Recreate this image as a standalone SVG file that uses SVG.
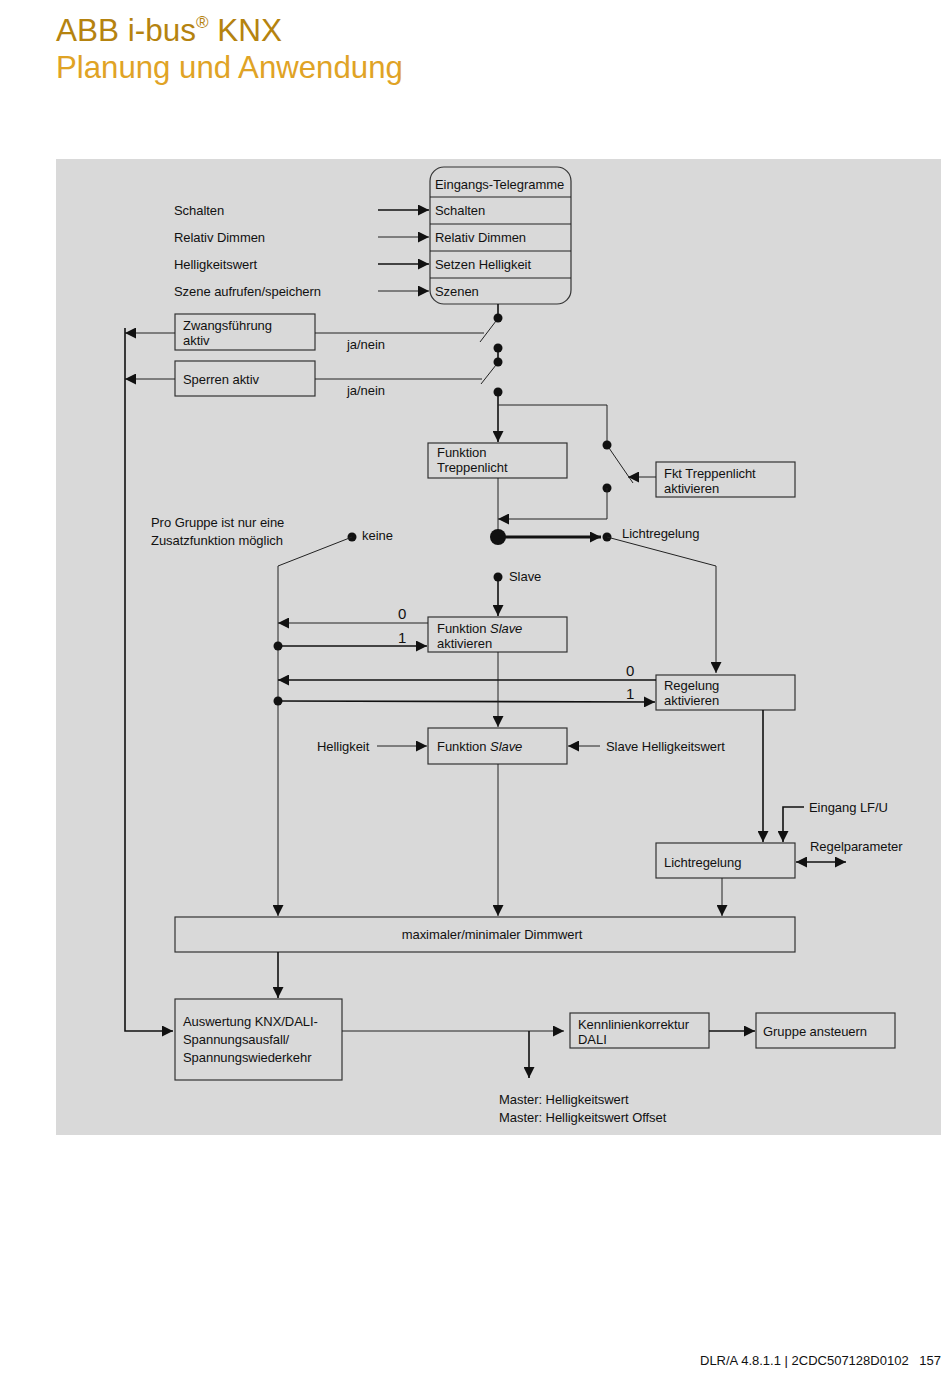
<svg xmlns="http://www.w3.org/2000/svg" width="950" height="1378" viewBox="0 0 950 1378">
<defs>
<marker id="ah" viewBox="0 0 10 10" refX="10" refY="5" markerWidth="11" markerHeight="11" markerUnits="userSpaceOnUse" orient="auto-start-reverse"><path d="M0,0 L10,5 L0,10 z" fill="#111"/></marker>
</defs>
<style>
.t{font-family:"Liberation Sans",Arial,sans-serif;font-size:13px;fill:#111;letter-spacing:-0.05px}
.box{fill:#d9d9d9;stroke:#333;stroke-width:1.2}
.ln{fill:none;stroke:#222;stroke-width:1}
.th{fill:none;stroke:#111;stroke-width:1.6}
.dot{fill:#111}
.h1{font-family:"Liberation Sans",Arial,sans-serif;font-size:31.5px;fill:#b5830f}
.h2{font-family:"Liberation Sans",Arial,sans-serif;font-size:31.2px;fill:#e0a325}
.ft{font-family:"Liberation Sans",Arial,sans-serif;font-size:13px;fill:#111}
</style>
<rect x="0" y="0" width="950" height="1378" fill="#ffffff"/>
<text class="h1" x="56" y="41">ABB i-bus<tspan font-size="17" dy="-13">®</tspan><tspan dy="13"> KNX</tspan></text>
<text class="h2" x="56" y="78">Planung und Anwendung</text>
<rect x="56" y="159" width="885" height="976" fill="#d9d9d9"/>

<g id="labels-left">
<text class="t" x="174" y="215">Schalten</text>
<text class="t" x="174" y="242">Relativ Dimmen</text>
<text class="t" x="174" y="269">Helligkeitswert</text>
<text class="t" x="174" y="296">Szene aufrufen/speichern</text>
</g>

<g id="telegramme">
<rect class="box" x="430" y="167" width="141" height="137" rx="14"/>
<line class="ln" x1="430" y1="197" x2="571" y2="197"/>
<line class="ln" x1="430" y1="224" x2="571" y2="224"/>
<line class="ln" x1="430" y1="251" x2="571" y2="251"/>
<line class="ln" x1="430" y1="278" x2="571" y2="278"/>
<text class="t" x="435" y="189">Eingangs-Telegramme</text>
<text class="t" x="435" y="215">Schalten</text>
<text class="t" x="435" y="242">Relativ Dimmen</text>
<text class="t" x="435" y="269">Setzen Helligkeit</text>
<text class="t" x="435" y="296">Szenen</text>
</g>

<g id="zwang">
<rect class="box" x="175" y="314" width="140" height="36"/>
<text class="t" x="183" y="330">Zwangsführung</text>
<text class="t" x="183" y="345">aktiv</text>
</g>
<g id="sperren">
<rect class="box" x="175" y="361" width="140" height="35"/>
<text class="t" x="183" y="384">Sperren aktiv</text>
</g>
<text class="t" x="347" y="349">ja/nein</text>
<text class="t" x="347" y="395">ja/nein</text>

<g id="treppenlicht">
<rect class="box" x="428" y="443" width="139" height="35"/>
<text class="t" x="437" y="457">Funktion</text>
<text class="t" x="437" y="472">Treppenlicht</text>
</g>
<g id="fkt-treppenlicht">
<rect class="box" x="656" y="462" width="139" height="35"/>
<text class="t" x="664" y="478">Fkt Treppenlicht</text>
<text class="t" x="664" y="493">aktivieren</text>
</g>

<text class="t" x="151" y="527">Pro Gruppe ist nur eine</text>
<text class="t" x="151" y="545">Zusatzfunktion möglich</text>
<text class="t" x="362" y="540">keine</text>
<text class="t" x="622" y="538">Lichtregelung</text>
<text class="t" x="509" y="581">Slave</text>

<g id="slave-aktiv">
<rect class="box" x="428" y="617" width="139" height="35"/>
<text class="t" x="437" y="633">Funktion <tspan font-style="italic">Slave</tspan></text>
<text class="t" x="437" y="648">aktivieren</text>
</g>
<g id="regelung-aktiv">
<rect class="box" x="656" y="675" width="139" height="35"/>
<text class="t" x="664" y="690">Regelung</text>
<text class="t" x="664" y="705">aktivieren</text>
</g>
<text class="t" x="398" y="619" style="font-size:15px">0</text>
<text class="t" x="398" y="643" style="font-size:15px">1</text>
<text class="t" x="626" y="676" style="font-size:15px">0</text>
<text class="t" x="626" y="699" style="font-size:15px">1</text>

<g id="slave">
<rect class="box" x="428" y="728" width="139" height="36"/>
<text class="t" x="437" y="751">Funktion <tspan font-style="italic">Slave</tspan></text>
</g>
<text class="t" x="317" y="751">Helligkeit</text>
<text class="t" x="606" y="751">Slave Helligkeitswert</text>

<g id="lichtregelung">
<rect class="box" x="656" y="843" width="139" height="35"/>
<text class="t" x="664" y="867">Lichtregelung</text>
</g>
<text class="t" x="809" y="812">Eingang LF/U</text>
<text class="t" x="810" y="851">Regelparameter</text>

<g id="dimmwert">
<rect class="box" x="175" y="917" width="620" height="35"/>
<text class="t" x="492" y="939" text-anchor="middle">maximaler/minimaler Dimmwert</text>
</g>

<g id="auswertung">
<rect class="box" x="175" y="999" width="167" height="81"/>
<text class="t" x="183" y="1026">Auswertung KNX/DALI-</text>
<text class="t" x="183" y="1044">Spannungsausfall/</text>
<text class="t" x="183" y="1062">Spannungswiederkehr</text>
</g>
<g id="kennlinie">
<rect class="box" x="570" y="1013" width="139" height="35"/>
<text class="t" x="578" y="1029">Kennlinienkorrektur</text>
<text class="t" x="578" y="1044">DALI</text>
</g>
<g id="gruppe">
<rect class="box" x="756" y="1013" width="139" height="35"/>
<text class="t" x="763" y="1036">Gruppe ansteuern</text>
</g>
<text class="t" x="499" y="1104">Master: Helligkeitswert</text>
<text class="t" x="499" y="1122">Master: Helligkeitswert Offset</text>

<g id="connectors">
<line class="th" x1="378" y1="210" x2="429" y2="210" marker-end="url(#ah)"/>
<line class="ln" x1="378" y1="237" x2="429" y2="237" marker-end="url(#ah)"/>
<line class="th" x1="378" y1="264" x2="429" y2="264" marker-end="url(#ah)"/>
<line class="ln" x1="378" y1="291" x2="429" y2="291" marker-end="url(#ah)"/>
<line class="th" x1="498" y1="304" x2="498" y2="318"/>
<circle class="dot" cx="498" cy="318" r="4.5"/>
<line class="ln" x1="496" y1="321" x2="480" y2="342"/>
<circle class="dot" cx="498" cy="348" r="4.5"/>
<line class="th" x1="498" y1="348" x2="498" y2="362"/>
<circle class="dot" cx="498" cy="362" r="4.5"/>
<line class="ln" x1="496" y1="365" x2="481" y2="384"/>
<circle class="dot" cx="498" cy="392" r="4.5"/>
<line class="ln" x1="315" y1="333" x2="484" y2="333"/>
<line class="ln" x1="315" y1="379" x2="482" y2="379"/>
<line class="ln" x1="175" y1="333" x2="125" y2="333" marker-end="url(#ah)"/>
<line class="ln" x1="175" y1="379" x2="125" y2="379" marker-end="url(#ah)"/>
<polyline class="th" points="125,328 125,1031 173,1031" marker-end="url(#ah)"/>
<line class="th" x1="498" y1="392" x2="498" y2="442" marker-end="url(#ah)"/>
<polyline class="ln" points="498,405 607,405 607,445"/>
<circle class="dot" cx="607" cy="445" r="4.5"/>
<line class="ln" x1="609" y1="448" x2="633" y2="483"/>
<line class="ln" x1="656" y1="477" x2="628" y2="477" marker-end="url(#ah)"/>
<circle class="dot" cx="607" cy="488" r="4.5"/>
<polyline class="ln" points="607,488 607,519 498,519" marker-end="url(#ah)"/>
<line class="ln" x1="498" y1="478" x2="498" y2="537"/>
<circle class="dot" cx="498" cy="537" r="8"/>
<line x1="498" y1="537" x2="601" y2="537" stroke="#111" stroke-width="3" marker-end="url(#ah)"/>
<circle class="dot" cx="607" cy="537" r="4.5"/>
<polyline class="ln" points="607,537 716,566 716,673" marker-end="url(#ah)"/>
<circle class="dot" cx="352" cy="537" r="4.5"/>
<polyline class="ln" points="352,537 278,566 278,916" marker-end="url(#ah)"/>
<circle class="dot" cx="498" cy="577" r="4.5"/>
<line class="th" x1="498" y1="577" x2="498" y2="616" marker-end="url(#ah)"/>
<line class="ln" x1="428" y1="623" x2="278" y2="623" marker-end="url(#ah)"/>
<circle class="dot" cx="278" cy="646" r="4.5"/>
<line class="th" x1="278" y1="646" x2="427" y2="646" marker-end="url(#ah)"/>
<line class="th" x1="656" y1="680" x2="278" y2="680" marker-end="url(#ah)"/>
<circle class="dot" cx="278" cy="701" r="4.5"/>
<line class="th" x1="278" y1="701" x2="655" y2="702" marker-end="url(#ah)"/>
<line class="ln" x1="498" y1="652" x2="498" y2="727" marker-end="url(#ah)"/>
<line class="ln" x1="377" y1="746" x2="427" y2="746" marker-end="url(#ah)"/>
<line class="ln" x1="600" y1="746" x2="568" y2="746" marker-end="url(#ah)"/>
<line class="ln" x1="498" y1="764" x2="498" y2="916" marker-end="url(#ah)"/>
<line class="th" x1="763" y1="710" x2="763" y2="842" marker-end="url(#ah)"/>
<polyline class="th" points="804,807 783,807 783,842" marker-end="url(#ah)"/>
<line class="th" x1="796" y1="862" x2="846" y2="862" marker-start="url(#ah)" marker-end="url(#ah)"/>
<line class="ln" x1="722" y1="878" x2="722" y2="916" marker-end="url(#ah)"/>
<line class="th" x1="278" y1="952" x2="278" y2="998" marker-end="url(#ah)"/>
<line class="ln" x1="342" y1="1031" x2="564" y2="1031" marker-end="url(#ah)"/>
<line class="th" x1="529" y1="1031" x2="529" y2="1078" marker-end="url(#ah)"/>
<line class="th" x1="709" y1="1031" x2="755" y2="1031" marker-end="url(#ah)"/>
</g>

<text class="ft" x="700" y="1365">DLR/A 4.8.1.1 | 2CDC507128D0102</text>
<text class="ft" x="941" y="1365" text-anchor="end">157</text>
</svg>
